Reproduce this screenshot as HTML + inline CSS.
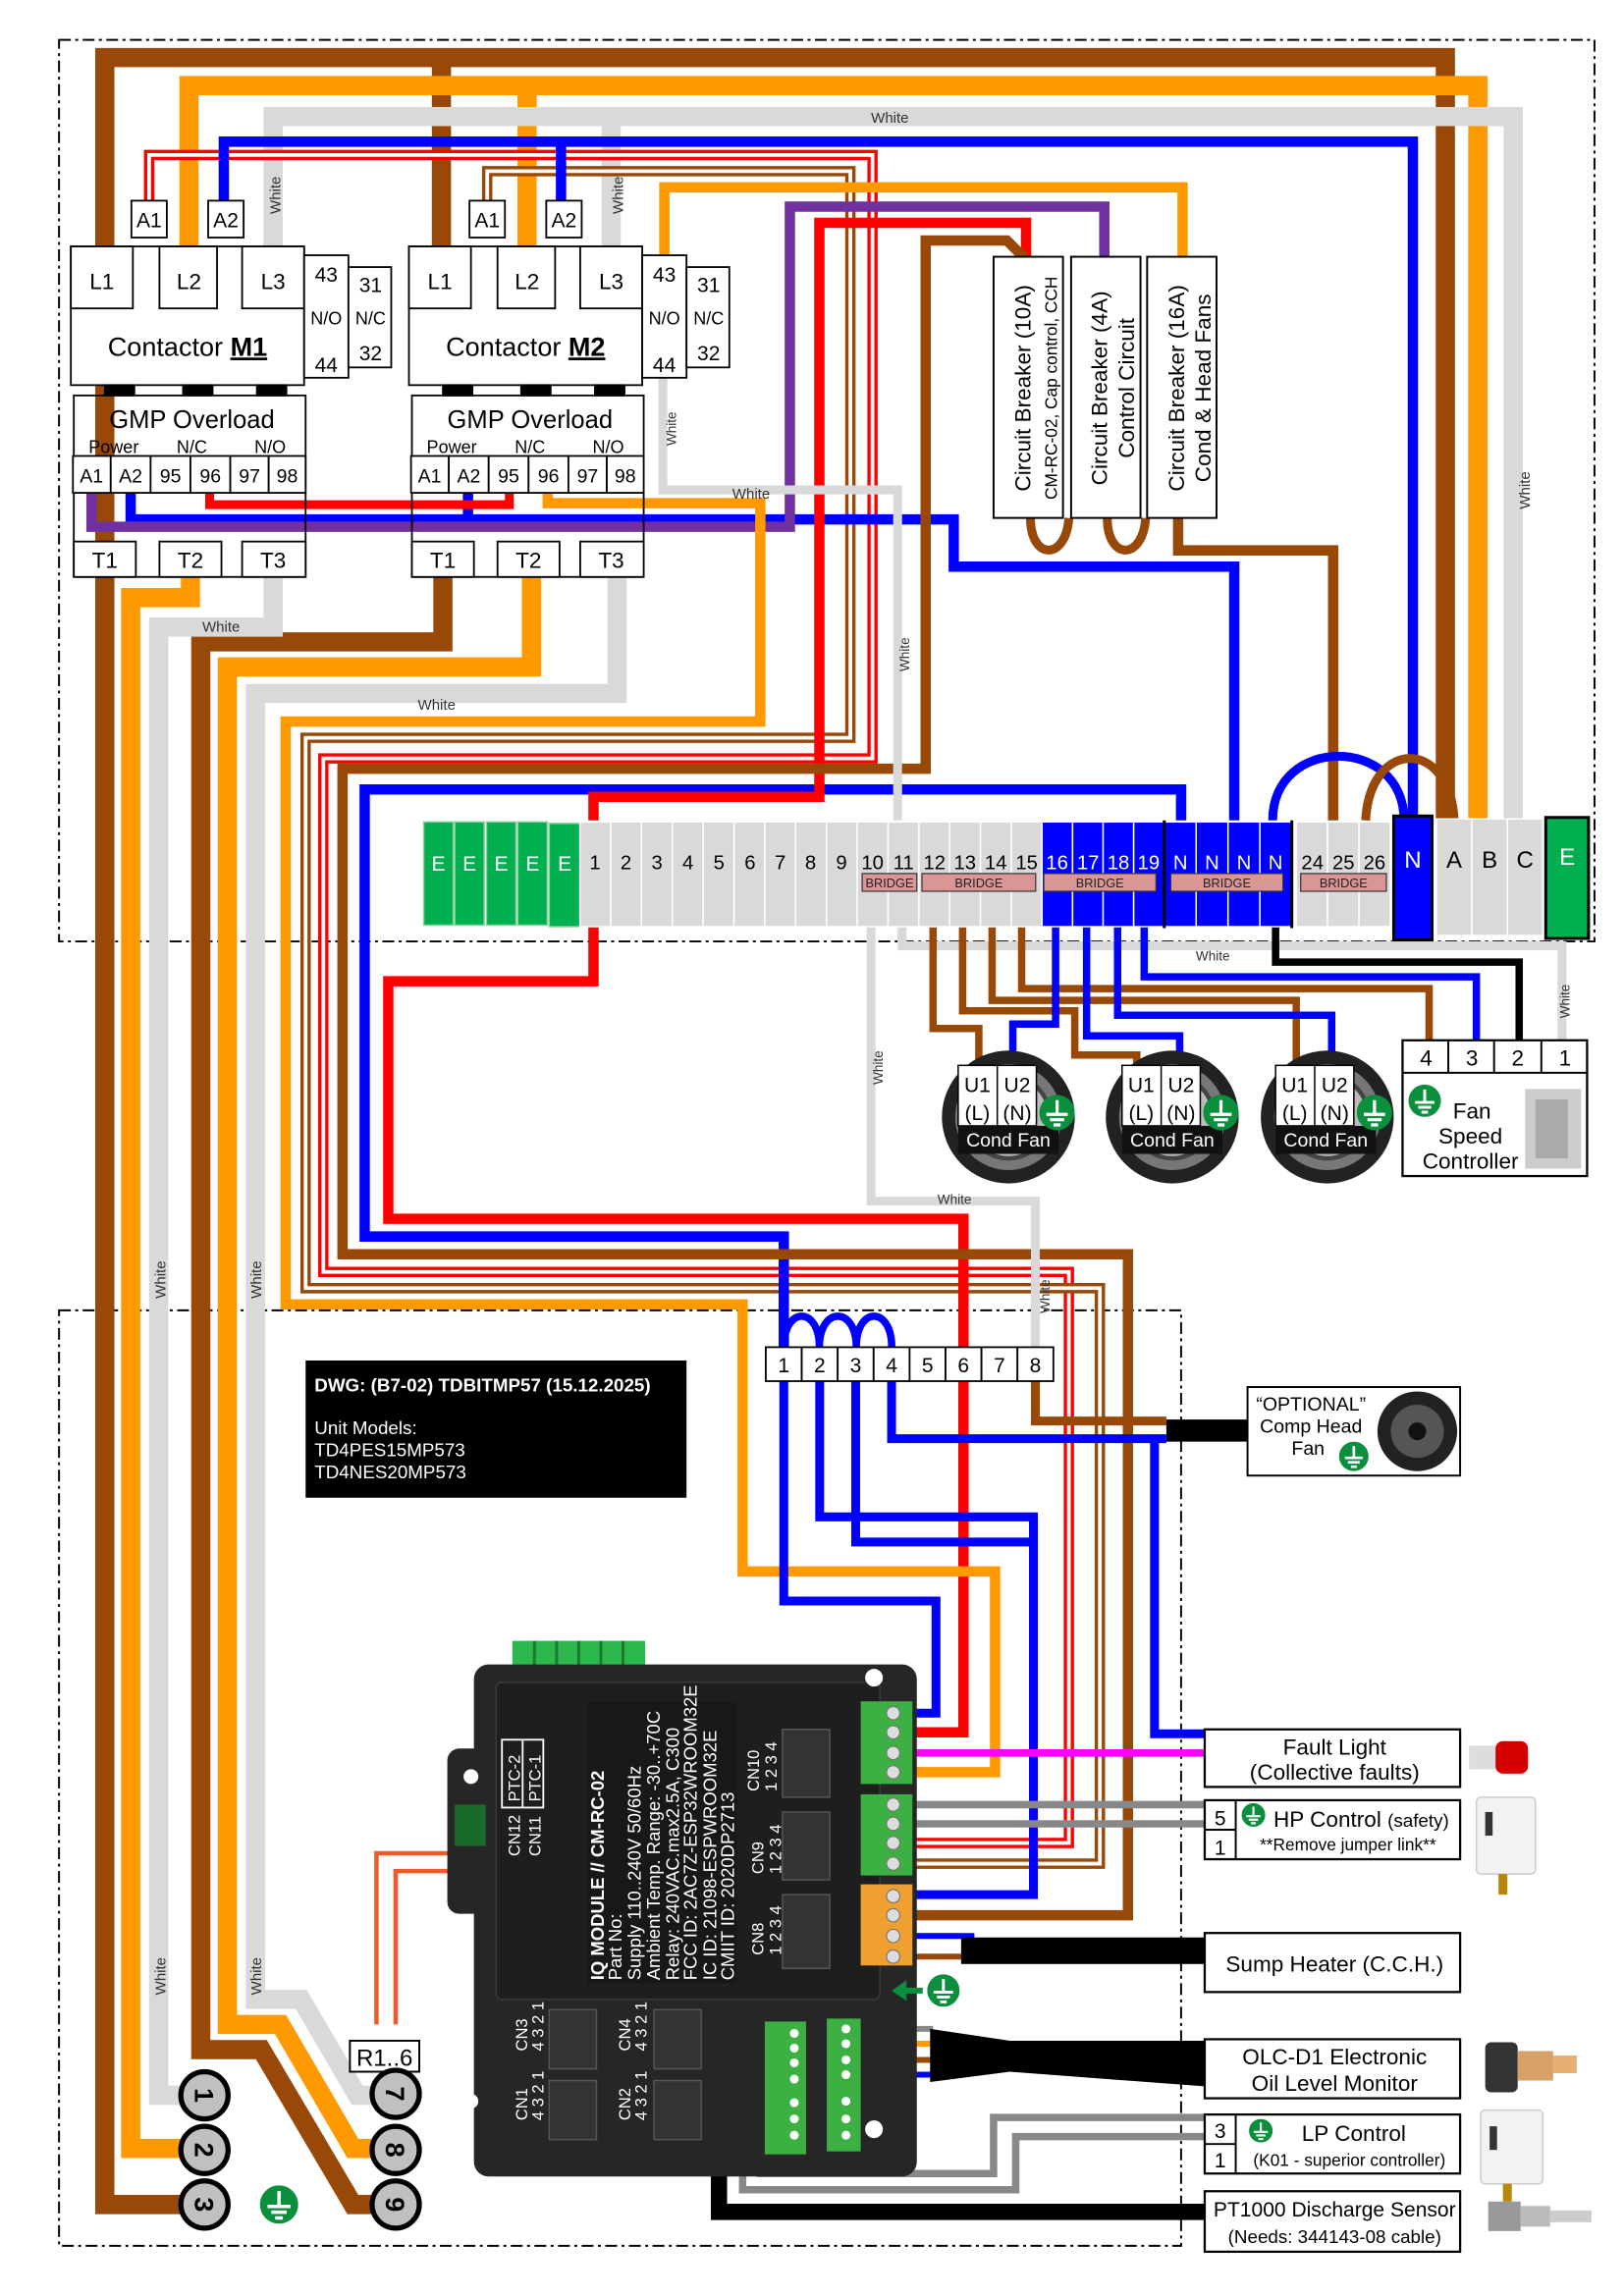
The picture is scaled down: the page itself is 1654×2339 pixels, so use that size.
<!DOCTYPE html>
<html><head><meta charset="utf-8"><style>
html,body{margin:0;padding:0;background:#fff}
svg{display:block}
text{font-family:"Liberation Sans",Arial,sans-serif}
</style></head><body>
<svg width="1654" height="2339" viewBox="0 0 1100 1556" preserveAspectRatio="none" xmlns="http://www.w3.org/2000/svg">
<defs>
<symbol id="gnd" viewBox="-10 -10 20 20"><circle r="10" fill="#0a8f3c"/><path d="M0 -7V1M-6 1H6M-4 4H4M-2 7H2" stroke="#fff" stroke-width="1.8" fill="none"/></symbol>
</defs>
<rect width="1100" height="1556" fill="#fff"/>
<g fill="none" stroke="#000" stroke-width="1.3" stroke-dasharray="8 3 2 3">
<rect x="40" y="27" width="1040" height="611"/>
<rect x="40" y="888" width="760" height="634"/>
</g>

<g fill="none" stroke-linejoin="miter" stroke-linecap="butt">
<path d="M979 556V39H71V1494H128" stroke="#984807" stroke-width="13"/>
<path d="M299 39V170M300 391V435H136V1389H177L239 1494H255" stroke="#984807" stroke-width="13"/>
<path d="M1001 556V58H128V170M357 58V170M129 391V405H88.5V1456H125M360 391V452H154V1372H190L239 1456H255" stroke="#ff9900" stroke-width="13"/>
<path d="M1025 556V79H185V170M414 79V170M185 391V425H107.5V1420H125M418 391V470H173V1355H204L242 1420H255" stroke="#d9d9d9" stroke-width="13"/>

<path d="M101 136V105H591V514H219V862H724V1249H617" stroke="#ff0000" stroke-width="7"/>
<path d="M101 136V105H591V514H219V862H724V1249H617" stroke="#fff" stroke-width="2.5"/>
<path d="M330 136V116H576V500H207V873H745V1263H617" stroke="#984807" stroke-width="7"/>
<path d="M330 136V116H576V500H207V873H745V1263H617" stroke="#fff" stroke-width="2.5"/>

<path d="M957 556V96H151.6V140M380 96V140" stroke="#0000ff" stroke-width="7"/>
<path d="M88.5 334V352H646V384H836V556M317 334V352" stroke="#0000ff" stroke-width="7"/>
<path d="M800 556V535H247V838H530.9V913" stroke="#0000ff" stroke-width="7"/>
<path d="M402 556V540H555V151H695V176" stroke="#ff0000" stroke-width="7"/>
<path d="M402 626V665H263V826H652.6V913M652.6 936V1174H617" stroke="#ff0000" stroke-width="7"/>
<path d="M142 334V342H345V334" stroke="#ff0000" stroke-width="6"/>
<path d="M62 334V357H535V140H748V176" stroke="#7030a0" stroke-width="7"/>
<path d="M371 334V341H515V489H193.5V884H503V1065H674V1201H617" stroke="#ff9900" stroke-width="7"/>
<path d="M450 173V127H801V176" stroke="#ff9900" stroke-width="7"/>
<path d="M695 176L682 163H627V521H232V850H764V1298H617" stroke="#984807" stroke-width="7"/>
<path d="M798 351V373H903V556" stroke="#984807" stroke-width="7"/>
<path d="M698 351C698 380 722 380 724 351M750 351C750 380 774 380 776 351" stroke="#984807" stroke-width="6"/>
<path d="M449 256V332H608V556" stroke="#d9d9d9" stroke-width="6"/>
<path d="M611 626V641H1058V705" stroke="#d9d9d9" stroke-width="6"/>
<path d="M590 626V814H701.3V913" stroke="#d9d9d9" stroke-width="6"/>
<path d="M864 626V652H1029V705" stroke="#000" stroke-width="5"/>
<path d="M862 556C862 498 951 498 951 556" stroke="#0000ff" stroke-width="6"/>
<path d="M925 556C928 500 982 500 985 556" stroke="#984807" stroke-width="6"/>
<path d="M632 626V697H663V722M652 626V685H728V715H770V722M672 626V678H878V722M692 626V670H968V705" stroke="#984807" stroke-width="5"/>
<path d="M715 626V694H686V722M736 626V702H799V722M757 626V688H902V722M775 626V662H1000V705" stroke="#0000ff" stroke-width="5"/>
<path d="M530.9 936V1085H634V1161H617M555.2 936V1028H700V1284H617M579.6 936V1045H700M603.9 936V975H790M782 975V1175H816" stroke="#0000ff" stroke-width="6"/>
<path d="M701.3 936V963H790" stroke="#984807" stroke-width="6"/>
<path d="M531 913C531 885 555 885 555 913M555 913C555 885 580 885 580 913M580 913C580 885 604 885 604 913" stroke="#0000ff" stroke-width="5"/>
<path d="M617 1188H816" stroke="#ff00ff" stroke-width="5"/>
<path d="M617 1223H816M617 1236H816" stroke="#888" stroke-width="5"/>
<path d="M617 1312H660" stroke="#0000ff" stroke-width="4"/>
<path d="M617 1326H660" stroke="#984807" stroke-width="4"/>
<path d="M487 1390V1499H816" stroke="#000" stroke-width="11"/>
<path d="M545 1378H484V1390" stroke="#000" stroke-width="4"/>
<path d="M545 1378H484" stroke="#fff" stroke-width="2"/>
<path d="M545 1388H497V1396" stroke="#984807" stroke-width="4"/>
<path d="M545 1398H503V1484H688V1448H816M545 1409H515V1473H673V1435H816" stroke="#888" stroke-width="5"/>
<path d="M582 1375H632" stroke="#888" stroke-width="4"/>
<path d="M582 1385H632" stroke="#ff9900" stroke-width="4"/>
<path d="M582 1396H632" stroke="#984807" stroke-width="4"/>
<path d="M582 1406H632" stroke="#0000ff" stroke-width="4"/>
<path d="M255 1372V1256H316V1244M268 1372V1268H327V1244" stroke="#f05a28" stroke-width="3"/>
</g>
<rect x="790" y="962" width="56" height="15" fill="#000"/>
<rect x="651" y="1313" width="166" height="18" fill="#000"/>
<polygon points="630,1375 684,1383 817,1383 817,1414 684,1404 630,1411" fill="#000"/>

<g font-size="10" fill="#333">
<text transform="translate(190,145) rotate(-90)">White</text>
<text transform="translate(422,145) rotate(-90)">White</text>
<text x="137" y="428">White</text>
<text x="283" y="481">White</text>
<text x="590" y="83">White</text>
<text x="496" y="338">White</text>
<text transform="translate(458,302) rotate(-90)" font-size="9">White</text>
<text transform="translate(616,455) rotate(-90)" font-size="9">White</text>
<text transform="translate(1036,345) rotate(-90)">White</text>
<text x="810" y="651" font-size="9">White</text>
<text transform="translate(1063,690) rotate(-90)" font-size="9">White</text>
<text transform="translate(598,735) rotate(-90)" font-size="9">White</text>
<text x="635" y="816" font-size="9">White</text>
<text transform="translate(711,890) rotate(-90)" font-size="9">White</text>
<text transform="translate(112,880) rotate(-90)">White</text>
<text transform="translate(177,880) rotate(-90)">White</text>
<text transform="translate(112,1352) rotate(-90)">White</text>
<text transform="translate(177,1352) rotate(-90)">White</text>
</g>

<g stroke="#000" stroke-width="1.2">
<rect x="89" y="136" width="24" height="25" fill="#fff"/>
<rect x="141" y="136" width="24" height="25" fill="#fff"/>
<rect x="48" y="167" width="158" height="94" fill="#fff"/>
<rect x="48" y="167" width="42" height="42" fill="#fff"/>
<rect x="108" y="167" width="39" height="42" fill="#fff"/>
<rect x="164" y="167" width="42" height="42" fill="#fff"/>
<rect x="206" y="173" width="30" height="83" fill="#fff"/>
<rect x="236" y="181" width="29" height="68" fill="#fff"/>
<rect x="71" y="261" width="20" height="7" fill="#000"/>
<rect x="124" y="261" width="20" height="7" fill="#000"/>
<rect x="174" y="261" width="20" height="7" fill="#000"/>
<rect x="50" y="268" width="157" height="123" fill="none"/>
<rect x="49.4" y="309" width="25.6" height="25" fill="#fff"/>
<rect x="75" y="309" width="27" height="25" fill="#fff"/>
<rect x="102" y="309" width="27" height="25" fill="#fff"/>
<rect x="129" y="309" width="27" height="25" fill="#fff"/>
<rect x="156" y="309" width="26" height="25" fill="#fff"/>
<rect x="182" y="309" width="25" height="25" fill="#fff"/>
<rect x="50" y="367" width="42" height="24" fill="#fff"/>
<rect x="108" y="367" width="42" height="24" fill="#fff"/>
<rect x="164" y="367" width="43" height="24" fill="#fff"/>
</g>
<g font-size="15" text-anchor="middle" fill="#000">
<text x="101" y="154" font-size="14">A1</text><text x="153" y="154" font-size="14">A2</text>
<text x="69" y="196">L1</text><text x="128" y="196">L2</text><text x="185" y="196">L3</text>
<text x="127" y="241" font-size="18">Contactor <tspan font-weight="bold" text-decoration="underline">M1</tspan></text>
<text x="221" y="191" font-size="14">43</text><text x="221" y="220" font-size="12">N/O</text><text x="221" y="252" font-size="14">44</text>
<text x="251" y="198" font-size="14">31</text><text x="251" y="220" font-size="12">N/C</text><text x="251" y="244" font-size="14">32</text>
<text x="130" y="290" font-size="17">GMP Overload</text>
<text x="77" y="307" font-size="12">Power</text><text x="130" y="307" font-size="12">N/C</text><text x="183" y="307" font-size="12">N/O</text>
<g font-size="13"><text x="62" y="327">A1</text><text x="88.5" y="327">A2</text><text x="115.5" y="327">95</text><text x="142.5" y="327">96</text><text x="169" y="327">97</text><text x="194.5" y="327">98</text></g>
<text x="71" y="385">T1</text><text x="129" y="385">T2</text><text x="185" y="385">T3</text>
</g>
<g transform="translate(229,0)">
<g stroke="#000" stroke-width="1.2">
<rect x="89" y="136" width="24" height="25" fill="#fff"/>
<rect x="141" y="136" width="24" height="25" fill="#fff"/>
<rect x="48" y="167" width="158" height="94" fill="#fff"/>
<rect x="48" y="167" width="42" height="42" fill="#fff"/>
<rect x="108" y="167" width="39" height="42" fill="#fff"/>
<rect x="164" y="167" width="42" height="42" fill="#fff"/>
<rect x="206" y="173" width="30" height="83" fill="#fff"/>
<rect x="236" y="181" width="29" height="68" fill="#fff"/>
<rect x="71" y="261" width="20" height="7" fill="#000"/>
<rect x="124" y="261" width="20" height="7" fill="#000"/>
<rect x="174" y="261" width="20" height="7" fill="#000"/>
<rect x="50" y="268" width="157" height="123" fill="none"/>
<rect x="49.4" y="309" width="25.6" height="25" fill="#fff"/>
<rect x="75" y="309" width="27" height="25" fill="#fff"/>
<rect x="102" y="309" width="27" height="25" fill="#fff"/>
<rect x="129" y="309" width="27" height="25" fill="#fff"/>
<rect x="156" y="309" width="26" height="25" fill="#fff"/>
<rect x="182" y="309" width="25" height="25" fill="#fff"/>
<rect x="50" y="367" width="42" height="24" fill="#fff"/>
<rect x="108" y="367" width="42" height="24" fill="#fff"/>
<rect x="164" y="367" width="43" height="24" fill="#fff"/>
</g>
<g font-size="15" text-anchor="middle" fill="#000">
<text x="101" y="154" font-size="14">A1</text><text x="153" y="154" font-size="14">A2</text>
<text x="69" y="196">L1</text><text x="128" y="196">L2</text><text x="185" y="196">L3</text>
<text x="127" y="241" font-size="18">Contactor <tspan font-weight="bold" text-decoration="underline">M2</tspan></text>
<text x="221" y="191" font-size="14">43</text><text x="221" y="220" font-size="12">N/O</text><text x="221" y="252" font-size="14">44</text>
<text x="251" y="198" font-size="14">31</text><text x="251" y="220" font-size="12">N/C</text><text x="251" y="244" font-size="14">32</text>
<text x="130" y="290" font-size="17">GMP Overload</text>
<text x="77" y="307" font-size="12">Power</text><text x="130" y="307" font-size="12">N/C</text><text x="183" y="307" font-size="12">N/O</text>
<g font-size="13"><text x="62" y="327">A1</text><text x="88.5" y="327">A2</text><text x="115.5" y="327">95</text><text x="142.5" y="327">96</text><text x="169" y="327">97</text><text x="194.5" y="327">98</text></g>
<text x="71" y="385">T1</text><text x="129" y="385">T2</text><text x="185" y="385">T3</text>
</g>
</g>

<g stroke="#000" stroke-width="1.3" fill="#fff">
<rect x="673" y="174" width="47" height="177"/>
<rect x="725.5" y="174" width="47" height="177"/>
<rect x="777" y="174" width="47" height="177"/>
</g>
<g text-anchor="middle" fill="#000">
<text transform="translate(698,263) rotate(-90)" font-size="15">Circuit Breaker (10A)</text>
<text transform="translate(716,263) rotate(-90)" font-size="11.5">CM-RC-02, Cap control, CCH</text>
<text transform="translate(750,263) rotate(-90)" font-size="15">Circuit Breaker (4A)</text>
<text transform="translate(768,263) rotate(-90)" font-size="15">Control Circuit</text>
<text transform="translate(802,263) rotate(-90)" font-size="15">Circuit Breaker (16A)</text>
<text transform="translate(820,263) rotate(-90)" font-size="15">Cond &amp; Head Fans</text>
</g>

<g stroke="#fff" stroke-width="1">
<rect x="287" y="557" width="20" height="70" fill="#00b050" stroke="#8fd19e"/>
<rect x="308" y="557" width="20" height="70" fill="#00b050" stroke="#8fd19e"/>
<rect x="329.5" y="557" width="20" height="70" fill="#00b050" stroke="#8fd19e"/>
<rect x="350.7" y="557" width="20" height="70" fill="#00b050" stroke="#8fd19e"/>
<rect x="372" y="558" width="21" height="70" fill="#00b050" stroke="#8fd19e"/>
<g fill="#d9d9d9">
<rect x="392.8" y="557" width="20.9" height="71"/><rect x="413.7" y="557" width="20.9" height="71"/><rect x="434.5" y="557" width="20.9" height="71"/><rect x="455.4" y="557" width="20.9" height="71"/><rect x="476.3" y="557" width="20.9" height="71"/><rect x="497.2" y="557" width="20.9" height="71"/><rect x="518" y="557" width="20.9" height="71"/><rect x="538.9" y="557" width="20.9" height="71"/><rect x="559.8" y="557" width="20.9" height="71"/><rect x="580.6" y="557" width="20.9" height="71"/><rect x="601.5" y="557" width="20.9" height="71"/><rect x="622.4" y="557" width="20.9" height="71"/><rect x="643.2" y="557" width="20.9" height="71"/><rect x="664.1" y="557" width="20.9" height="71"/><rect x="685" y="557" width="20.8" height="71"/>
<rect x="878" y="557" width="21.2" height="71"/><rect x="899.2" y="557" width="21.3" height="71"/><rect x="920.5" y="557" width="21.2" height="71"/>
<rect x="973" y="555" width="24" height="79"/><rect x="997" y="555" width="24" height="79"/><rect x="1021" y="555" width="24" height="79"/>
</g>
<g fill="#0000ff">
<rect x="705.8" y="557" width="20.7" height="71"/><rect x="726.5" y="557" width="20.7" height="71"/><rect x="747.2" y="557" width="20.7" height="71"/><rect x="767.9" y="557" width="20.7" height="71"/>
<rect x="788.6" y="557" width="21.6" height="71"/><rect x="810.2" y="557" width="21.6" height="71"/><rect x="831.8" y="557" width="21.6" height="71"/><rect x="853.4" y="557" width="21.6" height="71"/>
</g>
</g>
<path d="M788.6 556V629M875 556V629" stroke="#000" stroke-width="2"/>
<rect x="944" y="553" width="26" height="84" fill="#0000ff" stroke="#000" stroke-width="2"/>
<rect x="1047" y="554" width="29" height="82" fill="#00b050" stroke="#000" stroke-width="2"/>
<g font-size="14" text-anchor="middle" fill="#fff">
<text x="297" y="590">E</text><text x="318" y="590">E</text><text x="339.5" y="590">E</text><text x="360.7" y="590">E</text><text x="382.5" y="590">E</text>
<text x="957" y="588" font-size="16">N</text><text x="1061.5" y="586" font-size="16">E</text>
</g>
<g font-size="13.5" text-anchor="middle" fill="#000">
<text x="403" y="589">1</text><text x="424" y="589">2</text><text x="445" y="589">3</text><text x="466" y="589">4</text><text x="487" y="589">5</text><text x="508" y="589">6</text><text x="528.5" y="589">7</text><text x="549" y="589">8</text><text x="570" y="589">9</text><text x="591" y="589">10</text><text x="612" y="589">11</text><text x="633" y="589">12</text><text x="653.6" y="589">13</text><text x="674.5" y="589">14</text><text x="695.4" y="589">15</text>
<text x="889" y="589">24</text><text x="910" y="589">25</text><text x="931" y="589">26</text>
<text x="985" y="588" font-size="16">A</text><text x="1009" y="588" font-size="16">B</text><text x="1033" y="588" font-size="16">C</text>
</g>
<g font-size="13.5" text-anchor="middle" fill="#fff">
<text x="716" y="589">16</text><text x="737" y="589">17</text><text x="757.5" y="589">18</text><text x="778" y="589">19</text>
<text x="799.5" y="589">N</text><text x="821" y="589">N</text><text x="842.6" y="589">N</text><text x="864" y="589">N</text>
</g>
<g fill="#d99694" stroke="#333" stroke-width="0.8">
<rect x="584" y="592" width="37" height="12"/><rect x="624.5" y="592" width="77" height="12"/><rect x="707" y="592" width="76" height="12"/><rect x="793" y="592" width="76" height="12"/><rect x="881" y="592" width="58" height="12"/>
</g>
<g font-size="8.5" text-anchor="middle" fill="#222">
<text x="602.5" y="601.5">BRIDGE</text><text x="663" y="601.5">BRIDGE</text><text x="745" y="601.5">BRIDGE</text><text x="831" y="601.5">BRIDGE</text><text x="910" y="601.5">BRIDGE</text>
</g>

<g>
<circle cx="683" cy="757" r="45" fill="#222"/><circle cx="683" cy="757" r="36" fill="#777"/><circle cx="683" cy="757" r="28" fill="#bbb" stroke="#444" stroke-width="3"/>
<circle cx="794" cy="757" r="45" fill="#222"/><circle cx="794" cy="757" r="36" fill="#777"/><circle cx="794" cy="757" r="28" fill="#bbb" stroke="#444" stroke-width="3"/>
<circle cx="899" cy="757" r="45" fill="#222"/><circle cx="899" cy="757" r="36" fill="#777"/><circle cx="899" cy="757" r="28" fill="#bbb" stroke="#444" stroke-width="3"/>
</g>
<g id="fanbox">
<rect x="649" y="722" width="53" height="41" fill="#fff" stroke="#000"/>
<path d="M675.5 722V763" stroke="#000"/>
<rect x="649" y="763" width="68" height="19" fill="#111"/>
</g>
<use href="#fanbox" x="111"/><use href="#fanbox" x="215"/>
<g font-size="14" text-anchor="middle" fill="#000">
<text x="662" y="740">U1</text><text x="689" y="740">U2</text><text x="662" y="759">(L)</text><text x="689" y="759">(N)</text>
<text x="773" y="740">U1</text><text x="800" y="740">U2</text><text x="773" y="759">(L)</text><text x="800" y="759">(N)</text>
<text x="877" y="740">U1</text><text x="904" y="740">U2</text><text x="877" y="759">(L)</text><text x="904" y="759">(N)</text>
</g>
<g font-size="13" text-anchor="middle" fill="#fff">
<text x="683" y="777">Cond Fan</text><text x="794" y="777">Cond Fan</text><text x="898" y="777">Cond Fan</text>
</g>
<use href="#gnd" x="704" y="742" width="24" height="24"/>
<use href="#gnd" x="815" y="742" width="24" height="24"/>
<use href="#gnd" x="919" y="742" width="24" height="24"/>

<rect x="950" y="705" width="125" height="92" fill="#fff" stroke="#000" stroke-width="1.5"/>
<path d="M950 727H1075M981 705V727M1012 705V727M1044 705V727" stroke="#000" stroke-width="1.3"/>
<rect x="1033" y="738" width="38" height="54" fill="#ccc"/>
<rect x="1040" y="745" width="22" height="40" fill="#aaa"/>
<g font-size="15" text-anchor="middle"><text x="966" y="722">4</text><text x="997" y="722">3</text><text x="1028" y="722">2</text><text x="1060" y="722">1</text>
<text x="997" y="758">Fan</text><text x="996" y="775">Speed</text><text x="996" y="792">Controller</text></g>
<use href="#gnd" x="954" y="735" width="22" height="22"/>

<g fill="#fff" stroke="#000" stroke-width="1.2">
<rect x="518.7" y="913" width="24.35" height="23"/><rect x="543.05" y="913" width="24.35" height="23"/><rect x="567.4" y="913" width="24.35" height="23"/><rect x="591.75" y="913" width="24.35" height="23"/><rect x="616.1" y="913" width="24.35" height="23"/><rect x="640.45" y="913" width="24.35" height="23"/><rect x="664.8" y="913" width="24.35" height="23"/><rect x="689.15" y="913" width="24.35" height="23"/>
</g>
<g font-size="14" text-anchor="middle"><text x="530.9" y="930">1</text><text x="555.2" y="930">2</text><text x="579.6" y="930">3</text><text x="603.9" y="930">4</text><text x="628.3" y="930">5</text><text x="652.6" y="930">6</text><text x="677" y="930">7</text><text x="701.3" y="930">8</text></g>

<rect x="207" y="922" width="258" height="93" fill="#000"/>
<g fill="#fff" font-size="12.5"><text x="213" y="943" font-weight="bold">DWG: (B7-02) TDBITMP57 (15.12.2025)</text>
<text x="213" y="972">Unit Models:</text><text x="213" y="987">TD4PES15MP573</text><text x="213" y="1002">TD4NES20MP573</text></g>

<rect x="845" y="940" width="144" height="60" fill="#fff" stroke="#000" stroke-width="1.3"/>
<g font-size="13" text-anchor="middle"><text x="888" y="956">“OPTIONAL”</text><text x="888" y="971">Comp Head</text><text x="886" y="986">Fan</text></g>
<use href="#gnd" x="907" y="977" width="20" height="20"/>
<circle cx="960" cy="970" r="27" fill="#222"/><circle cx="960" cy="970" r="18" fill="#555"/><circle cx="960" cy="970" r="6" fill="#111"/>

<rect x="347" y="1112" width="90" height="20" fill="#2db84d"/>
<path d="M362 1112V1130M377 1112V1130M392 1112V1130M407 1112V1130M422 1112V1130" stroke="#1a7a30" stroke-width="2"/>
<rect x="303" y="1185" width="34" height="112" rx="8" fill="#262626"/>
<rect x="321" y="1128" width="300" height="347" rx="10" fill="#262626"/>
<rect x="336" y="1140" width="260" height="215" rx="4" fill="#1e1e1e" stroke="#3a3a3a"/>
<rect x="398" y="1153" width="101" height="191" fill="#181818"/>
<g fill="#fff" font-size="12.3">
<text transform="translate(409,1342) rotate(-90)" font-weight="bold">IQ MODULE // CM-RC-02</text>
<text transform="translate(421,1342) rotate(-90)">Part No:</text>
<text transform="translate(434,1342) rotate(-90)">Supply 110..240V 50/60Hz</text>
<text transform="translate(447,1342) rotate(-90)">Ambient Temp. Range: -30..+70C</text>
<text transform="translate(460,1342) rotate(-90)">Relay: 240VAC.max2.5A, C300</text>
<text transform="translate(472,1342) rotate(-90)">FCC ID: 2AC7Z-ESP32WROOM32E</text>
<text transform="translate(485,1342) rotate(-90)">IC ID: 21098-ESPWROOM32E</text>
<text transform="translate(497,1342) rotate(-90)">CMIIT ID: 2020DP2713</text>
</g>
<rect x="340" y="1179" width="28" height="46" fill="none" stroke="#fff" stroke-width="1.2"/>
<path d="M354 1179V1225" stroke="#fff" stroke-width="1.2"/>
<g fill="#fff" font-size="11">
<text transform="translate(352,1221) rotate(-90)">PTC-2</text><text transform="translate(366,1221) rotate(-90)">PTC-1</text>
<text transform="translate(352,1258) rotate(-90)">CN12</text><text transform="translate(366,1258) rotate(-90)">CN11</text>
<text transform="translate(514,1214) rotate(-90)">CN10</text><text transform="translate(526,1214) rotate(-90)">1 2 3 4</text>
<text transform="translate(517,1270) rotate(-90)">CN9</text><text transform="translate(529,1270) rotate(-90)">1 2 3 4</text>
<text transform="translate(517,1325) rotate(-90)">CN8</text><text transform="translate(529,1325) rotate(-90)">1 2 3 4</text>
<text transform="translate(357,1390) rotate(-90)">CN3</text><text transform="translate(368,1390) rotate(-90)">4 3 2 1</text>
<text transform="translate(357,1437) rotate(-90)">CN1</text><text transform="translate(368,1437) rotate(-90)">4 3 2 1</text>
<text transform="translate(427,1390) rotate(-90)">CN4</text><text transform="translate(438,1390) rotate(-90)">4 3 2 1</text>
<text transform="translate(427,1437) rotate(-90)">CN2</text><text transform="translate(438,1437) rotate(-90)">4 3 2 1</text>
</g>
<g fill="#333" stroke="#555"><rect x="530" y="1172" width="32" height="46"/><rect x="530" y="1228" width="32" height="46"/><rect x="530" y="1284" width="32" height="50"/>
<rect x="372" y="1362" width="32" height="40"/><rect x="372" y="1410" width="32" height="40"/><rect x="443" y="1362" width="32" height="40"/><rect x="443" y="1410" width="32" height="40"/></g>
<rect x="308" y="1223" width="21" height="28" fill="#1a6b2a"/>
<rect x="583" y="1153" width="35" height="56" fill="#3cb043"/>
<rect x="583" y="1216" width="35" height="55" fill="#3cb043"/>
<rect x="583" y="1277" width="35" height="55" fill="#f0a030"/>
<g fill="#ddd" stroke="#777" stroke-width="0.8">
<circle cx="605" cy="1161" r="4.5"/><circle cx="605" cy="1174" r="4.5"/><circle cx="605" cy="1188" r="4.5"/><circle cx="605" cy="1201" r="4.5"/>
<circle cx="605" cy="1223" r="4.5"/><circle cx="605" cy="1236" r="4.5"/><circle cx="605" cy="1249" r="4.5"/><circle cx="605" cy="1263" r="4.5"/>
<circle cx="605" cy="1285" r="4.5"/><circle cx="605" cy="1298" r="4.5"/><circle cx="605" cy="1312" r="4.5"/><circle cx="605" cy="1326" r="4.5"/>
</g>
<rect x="518" y="1370" width="28" height="90" fill="#3cb043"/>
<rect x="560" y="1368" width="23" height="90" fill="#3cb043"/>
<g fill="#fff"><circle cx="538" cy="1378" r="3"/><circle cx="538" cy="1388" r="3"/><circle cx="538" cy="1398" r="3"/><circle cx="538" cy="1409" r="3"/><circle cx="538" cy="1425" r="3"/><circle cx="538" cy="1436" r="3"/><circle cx="538" cy="1447" r="3"/>
<circle cx="573" cy="1375" r="3"/><circle cx="573" cy="1385" r="3"/><circle cx="573" cy="1396" r="3"/><circle cx="573" cy="1406" r="3"/><circle cx="573" cy="1424" r="3"/><circle cx="573" cy="1436" r="3"/><circle cx="573" cy="1447" r="3"/>
<circle cx="592" cy="1137" r="6"/><circle cx="319" cy="1204" r="5"/><circle cx="592" cy="1443" r="6"/><circle cx="319" cy="1424" r="5"/></g>
<path d="M625 1349H612" stroke="#0a8f3c" stroke-width="4"/><polygon points="604,1349 614,1342 614,1356" fill="#0a8f3c"/>
<use href="#gnd" x="628" y="1338" width="22" height="22"/>

<rect x="237" y="1383" width="47" height="21" fill="#fff" stroke="#000" stroke-width="1.3"/>
<text x="260.5" y="1400" font-size="16" text-anchor="middle">R1..6</text>
<g fill="#c0c0c0" stroke="#000" stroke-width="3.5">
<circle cx="138.5" cy="1420" r="16"/><circle cx="138.5" cy="1457" r="16"/><circle cx="138.5" cy="1494" r="16"/>
<circle cx="268" cy="1419" r="16"/><circle cx="268" cy="1457" r="16"/><circle cx="268" cy="1494" r="16"/>
</g>
<g font-size="18" font-weight="bold" text-anchor="middle" fill="#000">
<text transform="translate(132,1420) rotate(90)">1</text><text transform="translate(132,1457) rotate(90)">2</text><text transform="translate(132,1494) rotate(90)">3</text>
<text transform="translate(261.5,1419) rotate(90)">7</text><text transform="translate(261.5,1457) rotate(90)">8</text><text transform="translate(261.5,1494) rotate(90)">9</text>
</g>
<use href="#gnd" x="176" y="1481" width="26" height="26"/>

<g fill="#fff" stroke="#000" stroke-width="1.5">
<rect x="816" y="1172" width="173" height="39"/>
<rect x="816" y="1220" width="173" height="40"/>
<rect x="816" y="1310" width="173" height="40"/>
<rect x="816" y="1382" width="173" height="40"/>
<rect x="816" y="1433" width="173" height="40"/>
<rect x="816" y="1485" width="173" height="41"/>
</g>
<path d="M837 1220V1260M816 1240H837M837 1433V1473M816 1453H837" stroke="#000" stroke-width="1.3"/>
<g font-size="15" text-anchor="middle" fill="#000">
<text x="904" y="1189">Fault Light</text><text x="904" y="1206">(Collective faults)</text>
<text x="826.5" y="1237" font-size="14">5</text><text x="826.5" y="1257" font-size="14">1</text>
<text x="922" y="1238">HP Control <tspan font-size="12.5">(safety)</tspan></text>
<text x="913" y="1254" font-size="11.5">**Remove jumper link**</text>
<text x="904" y="1336">Sump Heater (C.C.H.)</text>
<text x="904" y="1399">OLC-D1 Electronic</text><text x="904" y="1417">Oil Level Monitor</text>
<text x="826.5" y="1449" font-size="14">3</text><text x="826.5" y="1469" font-size="14">1</text>
<text x="917" y="1451">LP Control</text><text x="914" y="1468" font-size="11.5">(K01 - superior  controller)</text>
<text x="904" y="1502" font-size="14">PT1000 Discharge Sensor</text><text x="904" y="1520" font-size="12.5">(Needs: 344143-08 cable)</text>
</g>
<use href="#gnd" x="841" y="1222" width="16" height="16"/>
<use href="#gnd" x="846" y="1436" width="16" height="16"/>
<rect x="995" y="1183" width="18" height="16" fill="#ddd"/><rect x="1013" y="1180" width="22" height="22" rx="5" fill="#d40000"/>
<rect x="1000" y="1218" width="40" height="52" rx="3" fill="#f2f2f2" stroke="#ccc"/><rect x="1006" y="1228" width="5" height="16" fill="#333"/><rect x="1015" y="1270" width="6" height="14" fill="#b8860b"/>
<rect x="1003" y="1430" width="42" height="50" rx="3" fill="#f2f2f2" stroke="#ccc"/><rect x="1009" y="1441" width="5" height="16" fill="#333"/><rect x="1018" y="1480" width="6" height="12" fill="#b8860b"/>
<rect x="1006" y="1384" width="22" height="34" rx="4" fill="#333"/><rect x="1028" y="1390" width="24" height="20" fill="#d9a066"/><rect x="1052" y="1393" width="16" height="12" fill="#e8b070"/>
<rect x="1008" y="1492" width="22" height="20" fill="#999"/><rect x="1030" y="1495" width="20" height="14" fill="#bbb"/><rect x="1050" y="1498" width="28" height="8" fill="#ccc"/>
</svg>
</body></html>
